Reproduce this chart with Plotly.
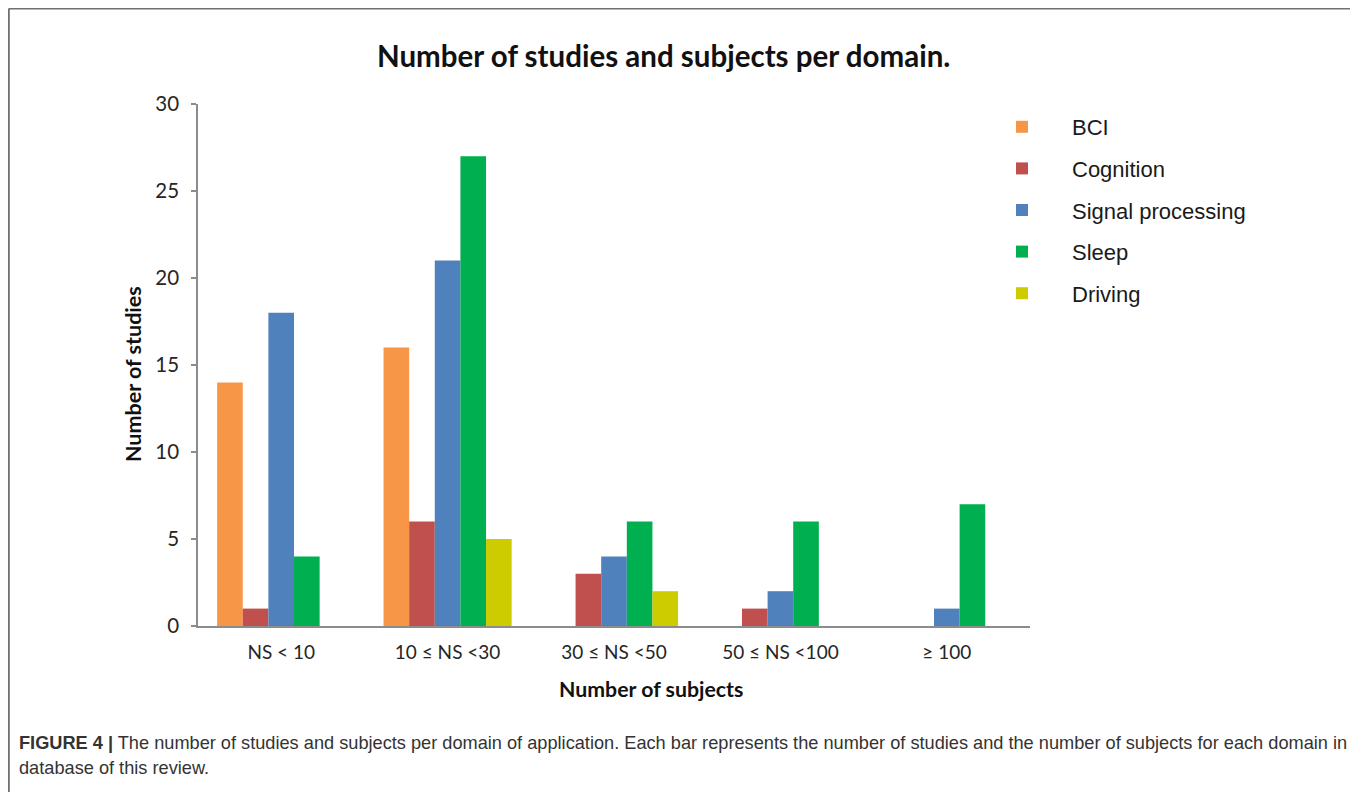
import plotly.graph_objects as go

categories = ["NS < 10", "10 ≤ NS <30", "30 ≤ NS <50", "50 ≤ NS <100", "≥ 100"]
bci = [14, 16, 0, 0, 0]
cognition = [1, 6, 3, 1, 0]
signal_processing = [18, 21, 4, 2, 1]
sleep = [4, 27, 6, 6, 7]
driving = [0, 5, 2, 0, 0]

series_names = ["BCI", "Cognition", "Signal processing", "Sleep", "Driving"]
series_values = [bci, cognition, signal_processing, sleep, driving]
colors = ["#F79646", "#C0504D", "#4F81BD", "#00B050", "#CCCC00"]

OFF = 8  # page body margin
W, H = 1358, 792
L, R = 198 - OFF, 1030 - OFF
T, B = 104 - OFF, 626 - OFF


def px_x(p):
    return (p - OFF - L) / (R - L)


def px_y(p):
    return (B - (p - OFF)) / (B - T)


fig = go.Figure()
for name, vals, col in zip(series_names, series_values, colors):
    fig.add_trace(go.Bar(
        x=categories, y=vals, name=name, legendgroup=name,
        marker=dict(color=col, line=dict(width=0)),
    ))

font_cal = "Lato, 'Open Sans', sans-serif"
fig.update_layout(
    width=W, height=H,
    margin=dict(l=L, r=W - R, t=T, b=H - B, pad=0),
    paper_bgcolor="white", plot_bgcolor="white",
    barmode="group", bargap=0.23, bargroupgap=0,
    showlegend=True,
    legend=dict(
        x=px_x(972), y=px_y(106), xanchor="left", yanchor="top",
        font=dict(family="'Liberation Sans', Arial, sans-serif", size=22, color="#1a1a1a"),
        tracegroupgap=10, bgcolor="rgba(0,0,0,0)", itemclick=False,
        itemwidth=90,
    ),
    xaxis=dict(
        showline=True, linecolor="#8c8c8c", linewidth=1.5,
        showgrid=False, ticks="", zeroline=False,
        tickfont=dict(family=font_cal, size=19, color="#262626"),
        ticklabelstandoff=8,
    ),
    yaxis=dict(
        range=[0, 30], dtick=5, tick0=0,
        showline=True, linecolor="#8c8c8c", linewidth=1.5,
        showgrid=False, zeroline=False,
        ticks="outside", ticklen=5, tickcolor="#8c8c8c", tickwidth=1.5,
        tickfont=dict(family=font_cal, size=20.5, color="#262626"),
        ticklabelstandoff=8,
    ),
    font=dict(family=font_cal),
)

annotations = [
    dict(text="<b>Number of studies and subjects per domain.</b>",
         x=px_x(663), y=px_y(56), xanchor="center", yanchor="middle",
         font=dict(family=font_cal, size=29.5, color="#111111")),
    dict(text="<b>Number of subjects</b>",
         x=px_x(651), y=px_y(689), xanchor="center", yanchor="middle",
         font=dict(family=font_cal, size=21.3, color="#111111")),
    dict(text="<b>Number of studies</b>", textangle=-90,
         x=px_x(133), y=px_y(374), xanchor="center", yanchor="middle",
         font=dict(family=font_cal, size=21.5, color="#111111")),
    dict(text="<b>FIGURE 4 |</b> The number of studies and subjects per domain of application. Each bar represents the number of studies and the number of subjects for each domain in",
         x=px_x(17), y=px_y(743), xanchor="left", yanchor="middle",
         font=dict(family="'Liberation Sans', Arial, sans-serif", size=18.2, color="#333333")),
    dict(text="database of this review.",
         x=px_x(17), y=px_y(768), xanchor="left", yanchor="middle",
         font=dict(family="'Liberation Sans', Arial, sans-serif", size=18.2, color="#333333")),
]
for a in annotations:
    a.update(xref="paper", yref="paper", showarrow=False)
fig.update_layout(annotations=annotations)

border = dict(color="#707070", width=2)
x_left = (0.8 - L) / (R - L)
x_right = px_x(1352)
y_top = px_y(8.5)
y_bot = px_y(800)
fig.add_shape(type="line", xref="paper", yref="paper",
              x0=x_left, x1=x_left, y0=y_bot, y1=y_top, line=border, layer="above")
fig.add_shape(type="line", xref="paper", yref="paper",
              x0=x_right, x1=x_right, y0=y_bot, y1=y_top, line=border, layer="above")
fig.add_shape(type="line", xref="paper", yref="paper",
              x0=x_left, x1=x_right, y0=y_top, y1=y_top, line=border, layer="above")

fig.write_html("out.html")
